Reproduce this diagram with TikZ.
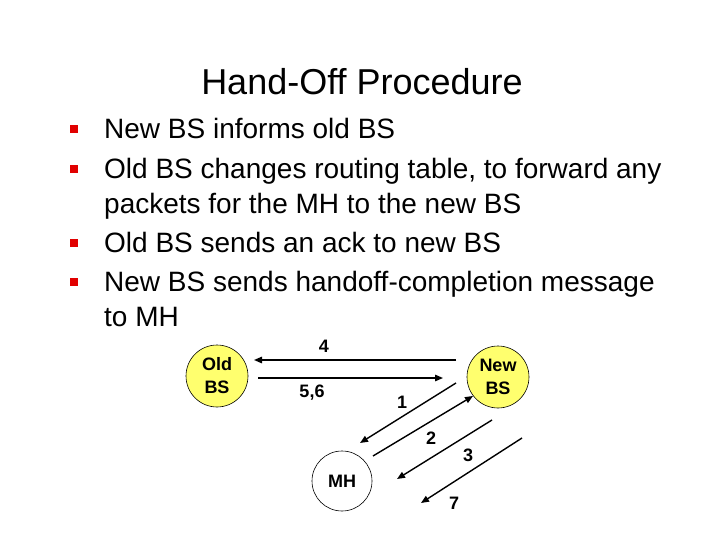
\documentclass[tikz,border=0pt]{standalone}
\usepackage{fontspec}
\setmainfont{Liberation Sans}
\usetikzlibrary{arrows.meta}
\definecolor{bsyellow}{RGB}{255,255,110}
\definecolor{bulletred}{RGB}{225,0,0}
\tikzset{
  bodytext/.style={anchor=base west, inner sep=0pt, font=\fontsize{28}{32}\selectfont},
  bulletsq/.style={fill=bulletred, draw=none, minimum size=7.5pt, inner sep=0pt},
  station/.style={circle, draw=black, line width=0.6pt, minimum size=62pt, inner sep=0pt, align=center, font=\fontsize{18}{23}\selectfont\bfseries},
  msg/.style={line width=1.4pt, -{Triangle[length=8pt,width=6.5pt]}},
  msglabel/.style={inner sep=0pt, font=\fontsize{18}{20}\selectfont\bfseries}
}
\begin{document}
\begin{tikzpicture}[x=1pt,y=-1pt]
\useasboundingbox (0,0) rectangle (720,540);
\node[anchor=base, inner sep=0pt, font=\fontsize{36}{40}\selectfont] (title) at (362,95) {Hand-Off Procedure};
% bullets
\node[bulletsq] (b1) at (74,129) {};
\node[bulletsq] (b2) at (74,169) {};
\node[bulletsq] (b3) at (74,243) {};
\node[bulletsq] (b4) at (74,282) {};
\node[bodytext] (t1) at (104,139) {New BS informs old BS};
\node[bodytext] (t2) at (104,179) {Old BS changes routing table, to forward any};
\node[bodytext] (t3) at (104,214) {packets for the MH to the new BS};
\node[bodytext] (t4) at (104,252) {Old BS sends an ack to new BS};
\node[bodytext] (t5) at (104,291) {New BS sends handoff-completion message};
\node[bodytext] (t6) at (104,326) {to MH};
% stations
\node[station, fill=bsyellow] (old) at (217,376) {Old\\BS};
\node[station, fill=bsyellow] (new) at (498,377) {New\\BS};
\node[station, fill=white, minimum size=60pt] (mh) at (342,481) {MH};
% arrow end points
\coordinate (a4s) at (456,360); \coordinate (a4e) at (254,360);
\coordinate (a5s) at (258,378); \coordinate (a5e) at (443,378);
\coordinate (a1s) at (456,383); \coordinate (a1e) at (360,443);
\coordinate (a2s) at (373,456); \coordinate (a2e) at (473,396);
\coordinate (a3s) at (492,420); \coordinate (a3e) at (397,479);
\coordinate (a7s) at (522,438); \coordinate (a7e) at (421,503);
\draw[msg] (a4s) -- (a4e);
\draw[msg] (a5s) -- (a5e);
\draw[msg] (a1s) -- (a1e);
\draw[msg] (a2s) -- (a2e);
\draw[msg] (a3s) -- (a3e);
\draw[msg] (a7s) -- (a7e);
\node[msglabel] (l4) at (324,346) {4};
\node[msglabel] (l56) at (312,393) {5,6};
\node[msglabel] (l1) at (402,402) {1};
\node[msglabel] (l2) at (431,438) {2};
\node[msglabel] (l3) at (468,455) {3};
\node[msglabel] (l7) at (454,503) {7};
\end{tikzpicture}
\end{document}
